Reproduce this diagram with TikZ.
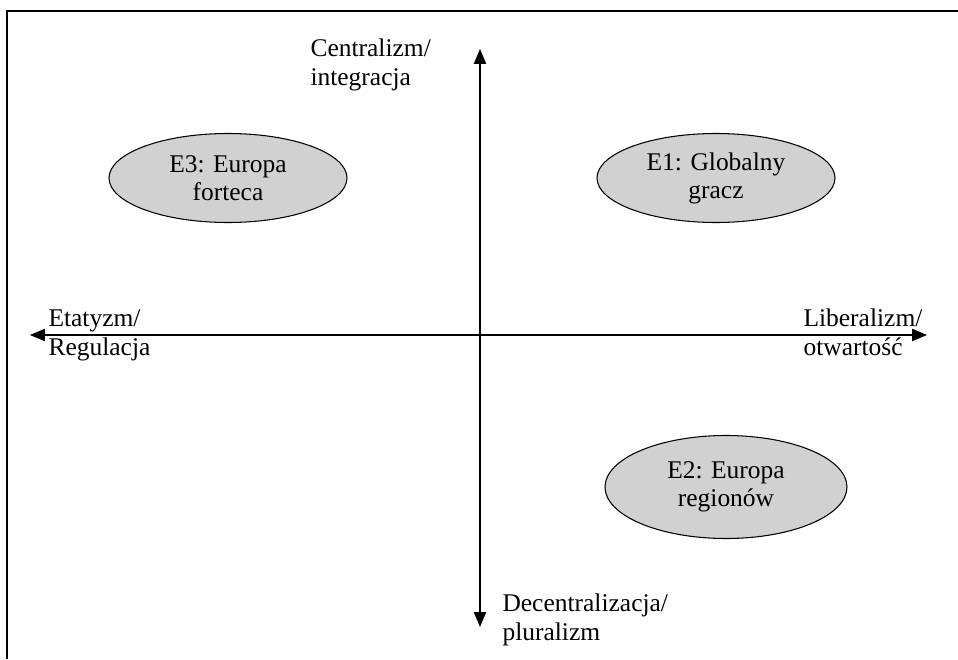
\documentclass[tikz,border=0pt]{standalone}
\usepackage{fontspec}
\setmainfont{Liberation Serif}
\usetikzlibrary{arrows.meta, shapes.geometric}
\tikzset{every picture/.append style={line width=0.6pt}}
\tikzset{
    scenario/.style={ellipse, draw, fill=black!18, align=center,
    	minimum width=4.76cm, minimum height=1.78cm, inner sep=0pt},
    axislabel/.style={align=left, anchor=base west, inner sep=0pt},
    axis/.style={{Triangle[length=8.5pt,width=7pt]}-{Triangle[length=8.5pt,width=7pt]}}
}

\begin{document}
\begin{tikzpicture}[font=\fontsize{14.5}{16}\selectfont]
	\useasboundingbox (-9.6cm, -6.48cm) rectangle (9.56cm, 6.7cm);
	\draw [line width=0.9pt] (-9.46cm, -6.48cm) -- (-9.46cm, 6.48cm) -- (9.56cm, 6.48cm);
	
	\coordinate (top) at (0.0cm, 5.72cm);
	\coordinate (bottom) at (0.0cm, -5.84cm);
	\coordinate (left) at (-9.0cm, 0.0cm);
	\coordinate (right) at (8.94cm, 0.0cm);
	\draw [axis] (top) -- (bottom);
	\draw [axis] (left) -- (right);
	
	\node (central) [axislabel] at (-3.4cm, 5.0cm) {Centralizm/\\integracja};
	\node (etat) [axislabel] at (-8.64cm, -0.4cm) {Etatyzm/\\Regulacja};
	\node (liberal) [axislabel] at (6.46cm, -0.4cm) {Liberalizm/\\otwartość};
	\node (decentral) [axislabel] at (0.44cm, -6.1cm) {Decentralizacja/\\pluralizm};
	
	\node (e3) [scenario] at (-5.04cm, 3.14cm) {E3: Europa\\forteca};
	\node (e1) [scenario] at (4.72cm, 3.14cm) {E1: Globalny\\gracz};
	\node (e2) [scenario, minimum width=4.84cm, minimum height=2.06cm] at (4.92cm, -3.04cm) {E2: Europa\\regionów};
\end{tikzpicture}
\end{document}
